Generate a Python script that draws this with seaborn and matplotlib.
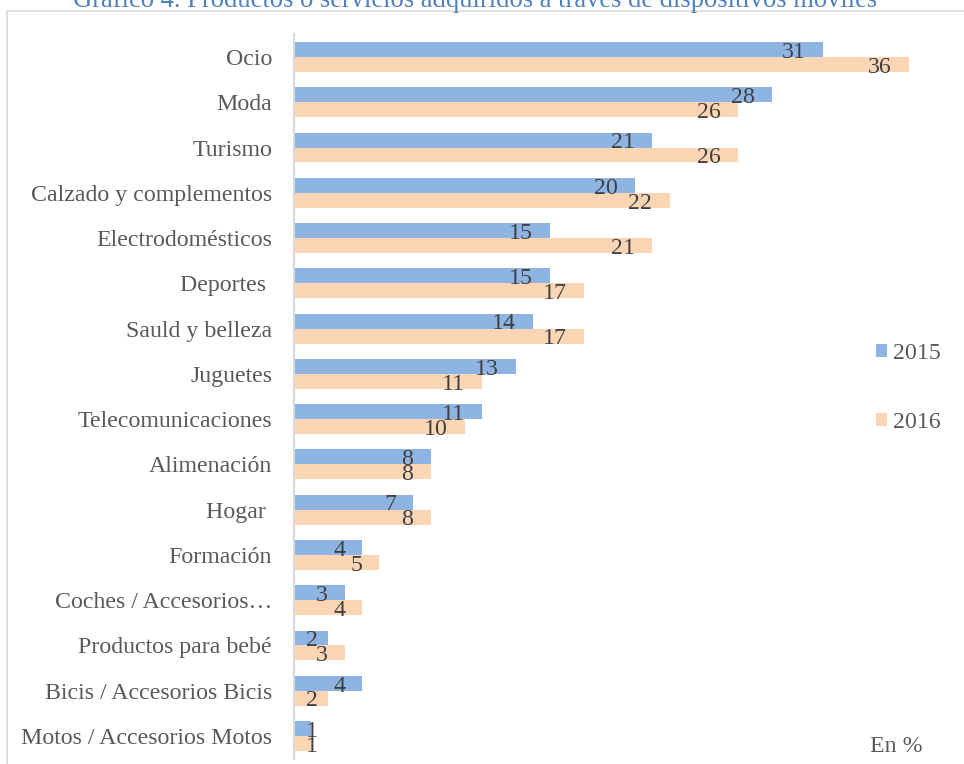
import matplotlib
matplotlib.use("Agg")
import matplotlib.pyplot as plt
from matplotlib.patches import Rectangle, Patch
import seaborn as sns
import pandas as pd

categories = [
    "Ocio", "Moda", "Turismo", "Calzado y complementos", "Electrodomésticos",
    "Deportes ", "Sauld y belleza", "Juguetes", "Telecomunicaciones",
    "Alimenación", "Hogar ", "Formación", "Coches / Accesorios…",
    "Productos para bebé", "Bicis / Accesorios Bicis", "Motos / Accesorios Motos",
]
values_2015 = [31, 28, 21, 20, 15, 15, 14, 13, 11, 8, 7, 4, 3, 2, 4, 1]
values_2016 = [36, 26, 26, 22, 21, 17, 17, 11, 10, 8, 8, 5, 4, 3, 2, 1]
years = ["2015", "2016"]
colors = ["#8EB4E3", "#FCD5B5"]

title = "Gráfico 4. Productos o servicios adquiridos a través de dispositivos móviles"
unit_note = "En %"

df = pd.DataFrame({
    "categoria": categories * 2,
    "valor": values_2015 + values_2016,
    "año": [years[0]] * len(categories) + [years[1]] * len(categories),
})

sns.set_theme(style="white")
plt.rcParams["font.family"] = ["Liberation Serif", "DejaVu Serif"]

W, H = 964, 764
fig = plt.figure(figsize=(W / 100, H / 100), dpi=100)
ax = fig.add_axes([294 / W, 1 - 758.6 / H, 648.7 / W, (758.6 - 34.4) / H])

sns.barplot(data=df, x="valor", y="categoria", hue="año", hue_order=years,
            palette=colors, order=categories, orient="h", width=0.66,
            saturation=1, legend=False, linewidth=0, ax=ax)

ax.set_xlim(0, 38)
ax.set_ylim(len(categories) - 0.5, -0.5)
ax.set_xlabel("")
ax.set_ylabel("")
ax.xaxis.set_visible(False)
for side in ["top", "right", "bottom"]:
    ax.spines[side].set_visible(False)
ax.spines["left"].set_color("#D9D9D9")
ax.spines["left"].set_linewidth(1.5)
ax.tick_params(axis="y", length=0, pad=15.8, labelsize=17.2, labelcolor="#595959")

# value labels just inside the end of each bar
for container in ax.containers:
    for bar in container:
        v = bar.get_width()
        yc = bar.get_y() + bar.get_height() / 2
        xr = max(v - 1.0, 1.4)
        ax.annotate(f"{v:g}", xy=(xr, yc), xytext=(0, -2.0),
                    textcoords="offset points", ha="right", va="center",
                    fontsize=17.2, color="#404040")

# legend
handles = [Patch(facecolor=c, edgecolor="none") for c in colors]
fig.legend(handles, years, loc="upper left",
           bbox_to_anchor=(876 / W, 1 - 343 / H), frameon=False,
           fontsize=17.2, labelcolor="#595959", handlelength=0.47,
           handleheight=0.47, handletextpad=0.25, labelspacing=2.0,
           borderaxespad=0, borderpad=0)

fig.text(870 / W, 1 - 746 / H, unit_note, ha="left", va="center",
         fontsize=17.2, color="#595959")

fig.text(475 / W, 1 - 7 / H, title, ha="center", va="baseline",
         fontsize=19.1, color="#4F81BD")

fig.patches.append(Rectangle((7 / W, -0.1), 1.2, 1.1 - 11.5 / H,
                             transform=fig.transFigure, fill=False,
                             edgecolor="#D9D9D9", linewidth=1.2))

fig.savefig("out.png", dpi=100)
